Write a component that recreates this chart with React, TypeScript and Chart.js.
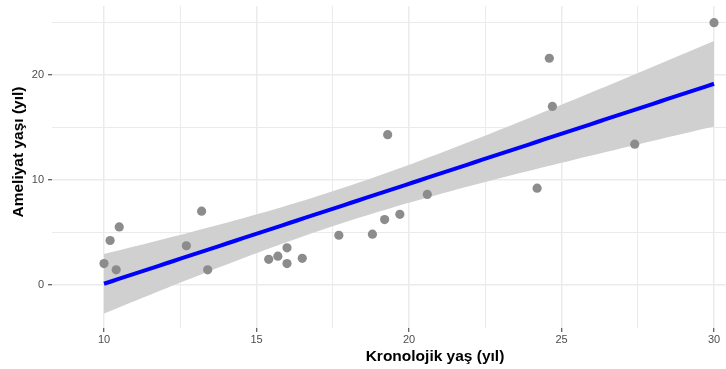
import { useEffect, useRef } from 'react';
import { Chart, registerables } from 'chart.js';

Chart.register(...registerables);

// Data
const chronologicalAge = [10, 10.2, 10.4, 10.5, 12.7, 13.2, 13.4, 15.4, 15.7, 16.0, 16.0, 16.5, 17.7, 18.8, 19.2, 19.3, 19.7, 20.6, 24.2, 24.6, 24.7, 27.4, 30.0];
const surgeryAge = [2.0, 4.2, 1.4, 5.5, 3.7, 7.0, 1.4, 2.4, 2.7, 3.5, 2.0, 2.5, 4.7, 4.8, 6.2, 14.3, 6.7, 8.6, 9.2, 21.6, 17.0, 13.4, 25.0];

const xMajorTicks = [10, 15, 20, 25, 30];
const xMinorTicks = [12.5, 17.5, 22.5, 27.5];
const yMajorTicks = [0, 10, 20];
const yMinorTicks = [5, 15, 25];

const xTitle = 'Kronolojik yaş (yıl)';
const yTitle = 'Ameliyat yaşı (yıl)';

const FONT = "'Liberation Sans', Arial, Helvetica, sans-serif";

function linearFit(xs: number[], ys: number[]) {
  const n = xs.length;
  const mx = xs.reduce((a, b) => a + b, 0) / n;
  const my = ys.reduce((a, b) => a + b, 0) / n;
  let sxx = 0, sxy = 0;
  for (let i = 0; i < n; i++) {
    sxx += (xs[i] - mx) ** 2;
    sxy += (xs[i] - mx) * (ys[i] - my);
  }
  const b = sxy / sxx;
  const a = my - b * mx;
  let sse = 0;
  for (let i = 0; i < n; i++) sse += (ys[i] - (a + b * xs[i])) ** 2;
  const s = Math.sqrt(sse / (n - 2));
  const t = 2.0796; // t(0.975, df=21)
  const lo = Math.min(...xs), hi = Math.max(...xs);
  const fitLine: { x: number; y: number }[] = [];
  const upper: { x: number; y: number }[] = [];
  const lower: { x: number; y: number }[] = [];
  const steps = 80;
  for (let k = 0; k < steps; k++) {
    const x = lo + ((hi - lo) * k) / (steps - 1);
    const yhat = a + b * x;
    const se = s * Math.sqrt(1 / n + (x - mx) ** 2 / sxx);
    fitLine.push({ x, y: yhat });
    upper.push({ x, y: yhat + t * se });
    lower.push({ x, y: yhat - t * se });
  }
  return { fitLine, upper, lower };
}

const axisTitlePlugin = {
  id: 'axisTitles',
  afterDraw(chart: any) {
    const ctx = chart.ctx;
    ctx.save();
    ctx.fillStyle = '#000000';
    ctx.font = `bold 15.5px ${FONT}`;
    ctx.textAlign = 'center';
    ctx.textBaseline = 'middle';
    ctx.fillText(xTitle, 435, 357);
    ctx.translate(18.5, 152);
    ctx.rotate(-Math.PI / 2);
    ctx.fillText(yTitle, 0, 0);
    ctx.restore();
  },
};

export default function App() {
  const ref = useRef<HTMLCanvasElement | null>(null);

  useEffect(() => {
    document.body.style.margin = '0';
    const canvas = ref.current;
    if (!canvas) return;
    const { fitLine, upper, lower } = linearFit(chronologicalAge, surgeryAge);
    const points = chronologicalAge.map((x, i) => ({ x, y: surgeryAge[i] }));

    const isXMajor = (v: number) => xMajorTicks.includes(v);
    const isYMajor = (v: number) => yMajorTicks.includes(v);

    const chart = new Chart(canvas, {
      type: 'scatter',
      data: {
        datasets: [
          {
            type: 'line',
            data: upper,
            showLine: true,
            pointRadius: 0,
            borderWidth: 0,
            borderColor: 'rgba(0,0,0,0)',
            backgroundColor: '#d0d0d0',
            fill: '+1',
            order: 3,
          } as any,
          {
            type: 'line',
            data: lower,
            showLine: true,
            pointRadius: 0,
            borderWidth: 0,
            borderColor: 'rgba(0,0,0,0)',
            fill: false,
            order: 3,
          } as any,
          {
            data: points,
            pointRadius: 4.6,
            pointHoverRadius: 4.6,
            pointBackgroundColor: '#8c8c8c',
            pointBorderWidth: 0,
            borderColor: 'rgba(0,0,0,0)',
            order: 2,
          } as any,
          {
            type: 'line',
            data: fitLine,
            showLine: true,
            pointRadius: 0,
            borderWidth: 4,
            borderColor: '#0000ff',
            fill: false,
            order: 1,
          } as any,
        ],
      },
      options: {
        animation: false,
        responsive: false,
        layout: { autoPadding: false, padding: { top: 6, left: 0, right: 0, bottom: 0 } },
        plugins: {
          legend: { display: false },
          tooltip: { enabled: false },
        },
        scales: {
          x: {
            type: 'linear',
            min: 8.295,
            max: 30.393,
            afterBuildTicks: (s: any) => {
              s.ticks = [...xMajorTicks, ...xMinorTicks].sort((a, b) => a - b).map((v) => ({ value: v }));
            },
            afterFit: (s: any) => {
              s.height = 41;
              s.paddingLeft = 0;
              s.paddingRight = 0;
            },
            border: { display: false },
            grid: {
              color: '#ebebeb',
              lineWidth: (c: any) => (c.tick && isXMajor(c.tick.value) ? 1.5 : 1),
              tickColor: (c: any) => (c.tick && isXMajor(c.tick.value) ? '#333333' : 'rgba(0,0,0,0)'),
              tickLength: 4,
              tickWidth: 1,
            },
            ticks: {
              autoSkip: false,
              maxRotation: 0,
              padding: 1,
              color: '#4d4d4d',
              font: { size: 11, family: FONT },
              callback: (v: any) => (isXMajor(Number(v)) ? String(v) : ''),
            },
          },
          y: {
            type: 'linear',
            min: -4.155,
            max: 26.59,
            afterBuildTicks: (s: any) => {
              s.ticks = [...yMajorTicks, ...yMinorTicks].sort((a, b) => a - b).map((v) => ({ value: v }));
            },
            afterFit: (s: any) => {
              s.width = 52;
              s.paddingTop = 0;
              s.paddingBottom = 0;
            },
            border: { display: false },
            grid: {
              color: '#ebebeb',
              lineWidth: (c: any) => (c.tick && isYMajor(c.tick.value) ? 1.5 : 1),
              tickColor: (c: any) => (c.tick && isYMajor(c.tick.value) ? '#333333' : 'rgba(0,0,0,0)'),
              tickLength: 4,
              tickWidth: 1,
            },
            ticks: {
              autoSkip: false,
              padding: 4,
              color: '#4d4d4d',
              font: { size: 11, family: FONT },
              callback: (v: any) => (isYMajor(Number(v)) ? String(v) : ''),
            },
          },
        },
      },
      plugins: [axisTitlePlugin],
    });
    return () => chart.destroy();
  }, []);

  return (
    <div style={{ width: 726, height: 369, background: '#ffffff' }}>
      <canvas ref={ref} width={726} height={369} style={{ display: 'block', width: 726, height: 369 }} />
    </div>
  );
}
